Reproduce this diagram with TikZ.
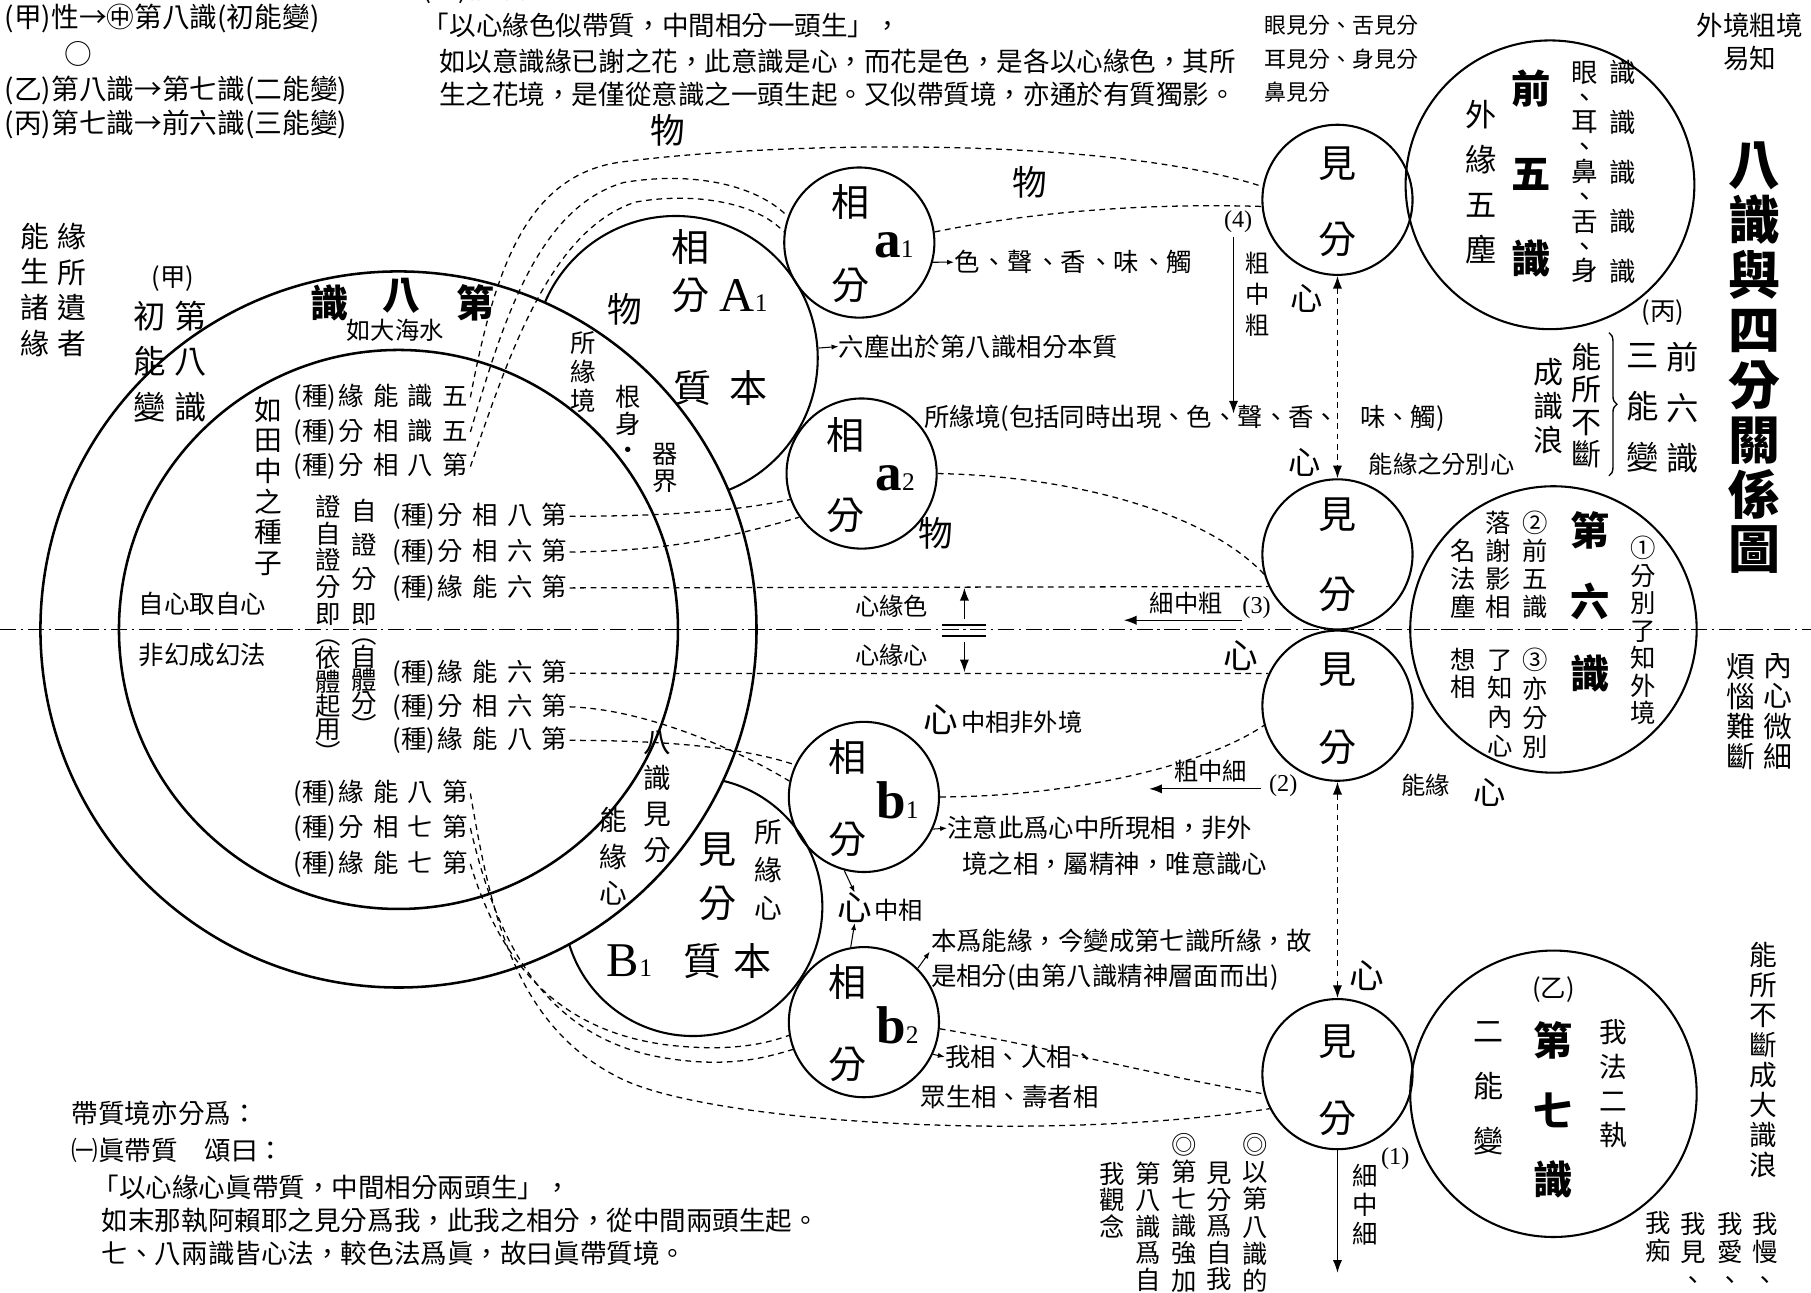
\documentclass[tikz,border=0pt]{standalone}
\usepackage{fontspec}
\setmainfont{Noto Sans CJK TC}
\newfontfamily\lat{Liberation Serif}
\usetikzlibrary{arrows.meta,decorations.pathreplacing}
\newcommand\fsz[2]{\fontsize{#1}{#2}\selectfont\lineskiplimit=-100pt\relax}
\newcommand\zh[4]{(種)\hspace{2pt}#1\hspace{8pt}#2\hspace{8pt}#3\hspace{8pt}#4}
\newcommand\lab[2]{{\lat\bfseries\fsz{46}{46}#1}{\lat\fsz{22}{22}#2}}
\newcommand\labA[2]{{\lat\fsz{42}{42}#1}{\lat\fsz{22}{22}#2}}
\begin{document}
\begin{tikzpicture}[x=1pt,y=-1pt,
  lbl/.style={inner sep=0pt, font=\fsz{22}{26}},
  lblx/.style={inner sep=0pt, font=\fsz{#1}{#1}},
  vt/.style 2 args={inner sep=0pt, align=center, font=\fsz{#1}{#2}},
  vtb/.style 2 args={inner sep=0pt, align=center, font=\fsz{#1}{#2}\bfseries},
  latf/.style={inner sep=0pt, font={\lat\fsz{21}{21}}},
  bg/.style={inner sep=0pt, font=\fsz{33}{33}},
  bgb/.style={inner sep=0pt, font=\fsz{33}{33}\bfseries},
  cir/.style={circle, draw, line width=1.8pt, inner sep=0pt, minimum size=#1},
  dsh/.style={line width=1.1pt, dash pattern=on 5pt off 4pt},
  dar/.style={dsh, {Latex[length=11pt,width=8pt]}-{Latex[length=11pt,width=8pt]}},
  arr/.style={line width=1.1pt, -{Latex[length=11pt,width=8pt]}},
  sarr/.style={line width=0.9pt, -{Latex[length=6pt,width=4.5pt]}},
  dd/.style={line width=1.6pt, dash pattern=on 14pt off 4pt on 2pt off 4pt}
]
\useasboundingbox (0,0) rectangle (1568,1119);
\fill[white] (0,0) rectangle (1568,1119);

% ---------- circles ----------
\node[cir=246pt] (A1) at (585,310) {};
\node[cir=224pt] (B1) at (600,785) {};
\node[cir=620pt, fill=white, line width=2.2pt] (O) at (345,545) {};
\node[cir=484pt, line width=2.2pt] (I) at (345,545) {};
\node[cir=130pt] (a1) at (744,210) {};
\node[cir=130pt] (a2) at (746,410) {};
\node[cir=130pt] (b1) at (748,690) {};
\node[cir=130pt] (b2) at (748,885) {};
\node[cir=130pt] (J1) at (1158,173) {};
\node[cir=130pt] (J2) at (1158,480) {};
\node[cir=130pt] (J3) at (1158,611) {};
\node[cir=130pt] (J4) at (1158,930) {};
\node[cir=250pt] (C5) at (1342,160) {};
\node[cir=248pt] (C6) at (1345,545) {};
\node[cir=248pt] (C7) at (1345,947) {};

% ---------- centre dash-dot line ----------
\coordinate (DL) at (0,545);
\coordinate (DR) at (1568,545);
\draw[dd] (DL) -- (DR);

% ---------- seed rows ----------
\node[lbl,anchor=west] (r1) at (254,344) {\zh{緣}{能}{識}{五}};
\node[lbl,anchor=west] (r2) at (254,374) {\zh{分}{相}{識}{五}};
\node[lbl,anchor=west] (r3) at (254,404) {\zh{分}{相}{八}{第}};
\node[lbl,anchor=west] (m1) at (340,447) {\zh{分}{相}{八}{第}};
\node[lbl,anchor=west] (m2) at (340,478) {\zh{分}{相}{六}{第}};
\node[lbl,anchor=west] (m3) at (340,509) {\zh{緣}{能}{六}{第}};
\node[lbl,anchor=west] (l1) at (340,583) {\zh{緣}{能}{六}{第}};
\node[lbl,anchor=west] (l2) at (340,612) {\zh{分}{相}{六}{第}};
\node[lbl,anchor=west] (l3) at (340,641) {\zh{緣}{能}{八}{第}};
\node[lbl,anchor=west] (n1) at (254,687) {\zh{緣}{能}{八}{第}};
\node[lbl,anchor=west] (n2) at (254,717) {\zh{分}{相}{七}{第}};
\node[lbl,anchor=west] (n3) at (254,748) {\zh{緣}{能}{七}{第}};

% ---------- dashed connectors ----------
\draw[dsh] ([xshift=2pt]r1.east) .. controls (428,235) and (455,150) .. (540,140) .. controls (680,122) and (960,118) .. (J1.170);
\draw[dsh] ([xshift=2pt]r2.east) .. controls (435,280) and (465,180) .. (540,158) .. controls (600,148) and (655,160) .. (a1.160);
\draw[dsh] ([xshift=2pt]r3.east) .. controls (440,310) and (475,200) .. (550,175) .. controls (600,166) and (655,175) .. (a1.172);
\draw[dsh] (a1.8) .. controls (900,182) and (1000,176) .. (J1.185);
\draw[dsh] ([xshift=2pt]m1.east) .. controls (580,447) and (640,442) .. (a2.200);
\draw[dsh] ([xshift=2pt]m2.east) .. controls (590,477) and (650,460) .. (a2.215);
\draw[dsh] ([xshift=2pt]m3.east) -- (J2.205);
\draw[dsh] (a2.0) .. controls (920,412) and (1040,440) .. (J2.195);
\draw[dsh] ([xshift=2pt]l1.east) -- (J3.155);
\draw[dsh] ([xshift=2pt]l2.east) .. controls (560,614) and (640,650) .. (b1.168);
\draw[dsh] ([xshift=2pt]l3.east) .. controls (570,641) and (640,646) .. (b1.155);
\draw[dsh] (b1.0) .. controls (920,690) and (1040,665) .. (J3.195);
\draw[dsh] ([xshift=2pt]n1.east) .. controls (425,790) and (445,890) .. (540,935) .. controls (620,972) and (900,990) .. (J4.207);
\draw[dsh] ([xshift=2pt]n2.east) .. controls (428,805) and (465,895) .. (570,915) .. controls (630,926) and (665,915) .. (b2.201);
\draw[dsh] ([xshift=2pt]n3.east) .. controls (432,830) and (480,893) .. (580,905) .. controls (635,911) and (665,903) .. (b2.190);
\draw[dsh] (b2.355) .. controls (900,905) and (1020,935) .. (J4.195);

% ---------- vertical arrows ----------
\draw[dar] (J1.south) -- (J2.north);
\draw[dar] (J3.south) -- (J4.north);
\coordinate (J4e) at (1158,1102);
\draw[arr] (J4.south) -- (J4e);
\coordinate (k4a) at (1068,205);
\coordinate (k4b) at (1068,358);
\draw[arr] (k4a) -- (k4b);
\coordinate (k3a) at (1075,537);
\coordinate (k3b) at (973,537);
\draw[arr] (k3a) -- (k3b);
\coordinate (k2a) at (1092,683);
\coordinate (k2b) at (995,683);
\draw[arr] (k2a) -- (k2b);
\coordinate (su1) at (835,536);
\coordinate (su2) at (835,509);
\coordinate (sd1) at (835,556);
\coordinate (sd2) at (835,582);
\draw[arr] (su1) -- (su2);
\draw[arr] (sd1) -- (sd2);
\coordinate (bb1) at (816,541); \coordinate (bb2) at (854,541);
\coordinate (bb3) at (816,551); \coordinate (bb4) at (854,551);
\draw[line width=1.6pt] (bb1) -- (bb2);
\draw[line width=1.6pt] (bb3) -- (bb4);

% ---------- top-left ----------
\node[lblx=24,anchor=west] (tl1) at (4,16) {(甲)性→㊥第八識(初能變)};
\node[lblx=24] (tl2) at (68,47) {○};
\node[lblx=24,anchor=west] (tl3) at (4,78) {(乙)第八識→第七識(二能變)};
\node[lblx=24,anchor=west] (tl4) at (4,108) {(丙)第七識→前六識(三能變)};

% ---------- top-middle ----------
\node[lblx=23,anchor=west] (tm0) at (366,-9) {(二)似帶質　頌曰：};
\node[lblx=23,anchor=west] (tm1) at (366,22) {「以心緣色似帶質，中間相分一頭生」，};
\node[lblx=23,anchor=west] (tm2) at (380,53) {如以意識緣已謝之花，此意識是心，而花是色，是各以心緣色，其所};
\node[lblx=23,anchor=west] (tm3) at (380,82) {生之花境，是僅從意識之一頭生起。又似帶質境，亦通於有質獨影。};

% ---------- top-right ----------
\node[lblx=19,anchor=west] (e1) at (1095,22) {眼見分、舌見分};
\node[lblx=19,anchor=west] (e2) at (1095,51) {耳見分、身見分};
\node[lblx=19,anchor=west] (e3) at (1095,80) {鼻見分};
\node[lblx=23] (wj1) at (1515,22) {外境粗境};
\node[lblx=23] (wj2) at (1515,51) {易知};
\node[vtb={45}{47.5}] (title) at (1519,310) {八\\識\\與\\四\\分\\關\\係\\圖};

\node[vt={27}{39}] (wy) at (1282,158) {外\\緣\\五\\塵};
\node[vtb={34}{73.5}] (q5) at (1326,150) {前\\五\\識};
\node[vt={23}{21.5}] (ye) at (1372,149) {眼\\、\\耳\\、\\鼻\\、\\舌\\、\\身};
\node[vt={23}{43}] (s5) at (1405,149) {識\\識\\識\\識\\識};

\node[bg] (j1a) at (1158,142) {見};
\node[bg] (j1b) at (1158,207) {分};
\node[bg] (j2a) at (1158,446) {見};
\node[bg] (j2b) at (1158,515) {分};
\node[bg] (j3a) at (1158,580) {見};
\node[bg] (j3b) at (1158,647) {分};
\node[bg] (j4a) at (1158,902) {見};
\node[bg] (j4b) at (1158,968) {分};

\node[latf] (p4) at (1072,192) {(4)};
\node[vt={21}{27}] (czc) at (1089,255) {粗\\中\\粗};
\node[lblx=28] (x1) at (1131,258) {心};
\node[lbl,anchor=west] (syj) at (800,362) {所緣境(包括同時出現、色、聲、香、\hspace{18pt}味、觸)};
\node[lblx=28] (x2) at (1130,400) {心};
\node[lblx=21,anchor=west] (nyz) at (1185,402) {能緣之分別心};

% ---------- sixth consciousness ----------
\node[vtb={34}{62}] (d6) at (1377,521) {第\\六\\識};
\node[vt={22}{23.8}] (c61) at (1423,546) {①\\分\\別\\了\\知\\外\\境};
\node[vt={22}{24}] (c62) at (1329,489) {②\\前\\五\\識};
\node[vt={22}{24}] (c63) at (1297,489) {落\\謝\\影\\相};
\node[vt={22}{24}] (c64) at (1267,501) {名\\法\\塵};
\node[vt={22}{25}] (c65) at (1329,609) {③\\亦\\分\\別};
\node[vt={22}{25}] (c66) at (1299,609) {了\\知\\內\\心};
\node[vt={22}{24}] (c67) at (1267,583) {想\\相};
\node[lbl] (bing) at (1440,271) {(丙)};
\node[vt={28}{44}] (q6) at (1457,353) {前\\六\\識};
\node[vt={28}{44}] (s3) at (1422,353) {三\\能\\變};
\coordinate (br1) at (1393,288);
\coordinate (br2) at (1393,412);
\draw[line width=1.2pt, decorate, decoration={brace, amplitude=7pt}] (br1) -- (br2);
\node[vt={26}{28}] (nsbd) at (1374,351) {能\\所\\不\\斷};
\node[vt={26}{29.5}] (csl) at (1341,352) {成\\識\\浪};
\node[vt={25}{26}] (nxw) at (1539,616) {內\\心\\微\\細};
\node[vt={25}{26}] (fn) at (1507,616) {煩\\惱\\難\\斷};

% ---------- middle labels ----------
\node[lblx=21] (xys) at (772,525) {心緣色};
\node[lblx=21] (xyx) at (772,567) {心緣心};
\node[lblx=21] (xzc) at (1027,522) {細中粗};
\node[latf] (p3) at (1088,526) {(3)};
\node[lblx=30] (x3) at (1074,568) {心};
\node[lblx=30] (x4) at (815,623) {心};
\node[lblx=21,anchor=west] (zxf) at (832,625) {中相非外境};
\node[lblx=30] (wu3) at (810,462) {物};
\node[lblx=21] (czx) at (1048,668) {粗中細};
\node[latf] (p2) at (1111,680) {(2)};
\node[lblx=21,anchor=west] (ny2) at (1213,680) {能緣};
\node[lblx=28] (x5) at (1290,686) {心};

% ---------- left ----------
\node[vt={25}{31}] (nszy) at (30,251) {能\\生\\諸\\緣};
\node[vt={25}{31}] (ysyz) at (62,251) {緣\\所\\遺\\者};
\node[lbl] (jia) at (150,241) {(甲)};
\node[vt={28}{39.5}] (d8) at (165,313) {第\\八\\識};
\node[vt={28}{39.5}] (cnb) at (130,313) {初\\能\\變};
\node[bgb] (k1) at (285,262) {識};
\node[bgb] (k2) at (348,256) {八};
\node[bgb] (k3) at (412,262) {第};
\node[lblx=21] (rdhs) at (342,286) {如大海水};
\node[vt={24}{26.5}] (rtz) at (232,421) {如\\田\\中\\之\\種\\子};
\node[lbl,anchor=west] (zxq) at (120,523) {自心取自心};
\node[lbl,anchor=west] (fhc) at (120,567) {非幻成幻法};
\node[vt={22}{23}] (zz1) at (284,485) {證\\自\\證\\分\\即};
\node[vt={22}{20.5}] (zz2) at (284,607) {︵\\依\\體\\起\\用\\︶};
\node[vt={22}{29.7}] (zz3) at (315,486.5) {自\\證\\分\\即};
\node[vt={22}{20}] (zz4) at (315,595) {︵\\自\\體\\分\\︶};
\node[vt={22}{25}] (syj2) at (505,322) {所\\緣\\境};
\node[vt={22}{23}] (gs) at (544,366) {根\\身\\・};
\node[vt={22}{23}] (qj) at (576,405) {器\\界};

% ---------- A1 ----------
\node[lblx=30] (wu1) at (578,113) {物};
\node[lblx=30] (wu4) at (892,158) {物};
\node[lblx=30] (wu2) at (541,268) {物};
\node[bg] (A1x) at (598,214) {相};
\node[bg] (A1y) at (598,256) {分};
\node[inner sep=0pt] (A1l) at (644,256) {\labA{A}{1}};
\node[bg] (A1z) at (600,336) {質};
\node[bg] (A1b) at (648,336) {本};
\node[lbl,anchor=west] (ld) at (726,300) {六塵出於第八識相分本質};
\draw[sarr] (A1.4) -- (ld.west);

% ---------- a1 a2 b1 b2 ----------
\node[bg] (a1x) at (736,175) {相};
\node[inner sep=0pt] (a1l) at (774,212) {\lab{a}{1}};
\node[bg] (a1y) at (736,247) {分};
\node[lbl,anchor=west] (ss) at (826,227) {色\hspace{2pt}、聲\hspace{2pt}、香\hspace{2pt}、味\hspace{2pt}、觸};
\draw[sarr] (a1.-15) -- (ss.west);
\node[bg] (a2x) at (732,377) {相};
\node[inner sep=0pt] (a2l) at (775,414) {\lab{a}{2}};
\node[bg] (a2y) at (732,446) {分};
\node[bg] (b1x) at (734,655) {相};
\node[inner sep=0pt] (b1l) at (777,693) {\lab{b}{1}};
\node[bg] (b1y) at (734,727) {分};
\node[bg] (b2x) at (734,850) {相};
\node[inner sep=0pt] (b2l) at (777,888) {\lab{b}{2}};
\node[bg] (b2y) at (734,922) {分};

% ---------- B1 ----------
\node[bg] (B1x) at (621,736) {見};
\node[bg] (B1y) at (621,782) {分};
\node[vt={24}{33}] (B1s) at (665,753) {所\\緣\\心};
\node[inner sep=0pt] (B1l) at (545,832) {\labA{B}{1}};
\node[bg] (B1z) at (608,832) {質};
\node[bg] (B1b) at (652,832) {本};
\node[vt={24}{31}] (bsjf) at (569,690) {八\\識\\見\\分};
\node[vt={24}{31.5}] (nyx) at (531,741.5) {能\\緣\\心};

% ---------- around b1/b2 ----------
\node[lblx=30] (xin) at (740,786) {心};
\node[lblx=21,anchor=west] (zx) at (757,788) {中相};
\draw[sarr] (b1.-105) -- (xin.north);
\draw[sarr] (b2.100) -- (xin.south);
\node[lbl,anchor=west] (bw1) at (806,815) {本爲能緣，今變成第七識所緣，故};
\node[lbl,anchor=west] (bw2) at (806,846) {是相分(由第八識精神層面而出)};
\coordinate (bwt) at (805,824);
\draw[sarr] (b2.45) -- (bwt);
\node[lbl,anchor=west] (zy1) at (820,717) {注意此爲心中所現相，非外};
\node[lbl,anchor=west] (zy2) at (833,748) {境之相，屬精神，唯意識心};
\draw[sarr] (b1.-25) -- (zy1.west);
\node[lbl,anchor=west] (wx1) at (818,915) {我相、人相、};
\node[lbl,anchor=west] (wx2) at (797,950) {眾生相、壽者相};
\draw[sarr] (b2.-25) -- (wx1.west);

% ---------- J4 / seventh ----------
\node[lblx=30] (x6) at (1183,845) {心};
\node[latf] (p1) at (1208,1003) {(1)};
\node[vt={22}{25}] (xzx) at (1182,1043) {細\\中\\細};
\node[vt={22}{23.5}] (w1) at (1087,1050) {◎\\以\\第\\八\\識\\的};
\node[vt={22}{23}] (w2) at (1056,1062) {見\\分\\爲\\自\\我};
\node[vt={22}{23.5}] (w3) at (1025,1050) {◎\\第\\七\\識\\強\\加};
\node[vt={22}{23}] (w4) at (994,1062) {第\\八\\識\\爲\\自};
\node[vt={22}{23}] (w5) at (963,1039) {我\\觀\\念};
\node[lbl] (yi) at (1345,857) {(乙)};
\node[vtb={34}{60.5}] (d7) at (1345,961) {第\\七\\識};
\node[vt={26}{47.5}] (enb) at (1289,942) {二\\能\\變};
\node[vt={24}{29.7}] (wfez) at (1397,938.5) {我\\法\\二\\執};
\node[vt={24}{26}] (nsbd2) at (1527,918) {能\\所\\不\\斷\\成\\大\\識\\浪};
\node[vt={22}{24}] (wm) at (1528,1083) {我\\慢\\、};
\node[vt={22}{24}] (wa) at (1498,1083) {我\\愛\\、};
\node[vt={22}{24}] (wjj) at (1466,1083) {我\\見\\、};
\node[vt={22}{24}] (wc) at (1436,1071) {我\\痴};

% ---------- bottom-left ----------
\node[lblx=23,anchor=west] (bl1) at (62,964) {帶質境亦分爲：};
\node[lblx=23,anchor=west] (bl2) at (62,996) {㈠眞帶質　頌曰：};
\node[lblx=23,anchor=west] (bl3) at (80,1028) {「以心緣心眞帶質，中間相分兩頭生」，};
\node[lblx=23,anchor=west] (bl4) at (88,1057) {如末那執阿賴耶之見分爲我，此我之相分，從中間兩頭生起。};
\node[lblx=23,anchor=west] (bl5) at (88,1085) {七、八兩識皆心法，較色法爲眞，故曰眞帶質境。};
\end{tikzpicture}
\end{document}
